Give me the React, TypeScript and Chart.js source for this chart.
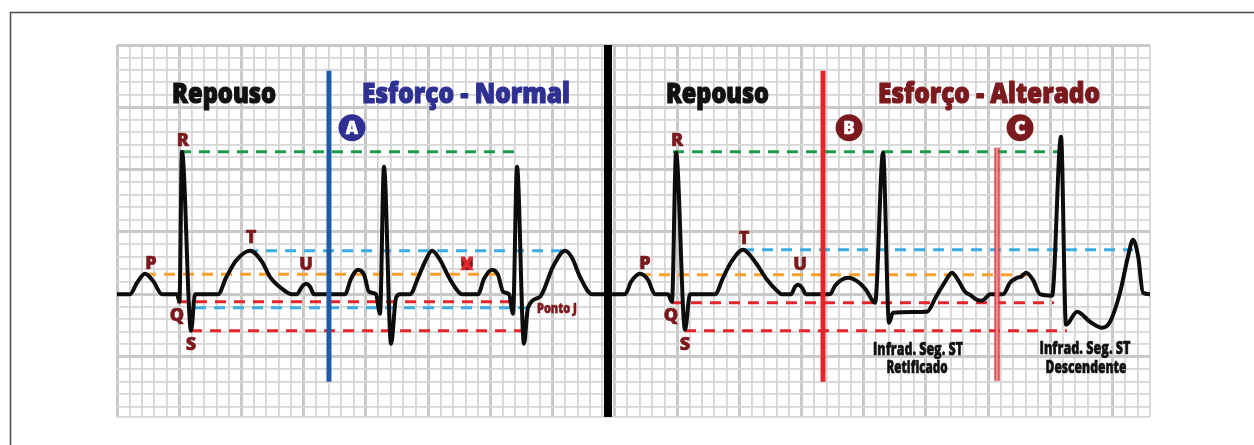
import React, { useEffect, useRef } from "react";
import { Chart, registerables } from "chart.js";

Chart.register(...registerables);

// Units: one small ECG square on each axis; y = 0 is the isoelectric baseline.
const X_MIN = 0;
const X_MAX = 83;
const Y_MIN = -9.85;
const Y_MAX = 20;

// ECG trace (left: rest + normal exercise, right: rest + altered exercise)
const ecgX = [
  0, 1.04, 1.61, 2.25, 2.89, 3.62, 4.82, 5.02, 5.22, 5.95, 6.27, 8.12, 8.76, 9.56, 10.69, 11.65, 12.29, 13.26, 14.06,
  14.46, 14.86, 15.19, 15.51, 15.83, 18.32,
  18.8, 19.36, 19.85, 20.25, 20.81, 21.13, 21.45, 22.02, 22.42, 22.74, 23.54, 24.19, 24.75, 25.31, 25.95, 26.6, 27.24,
  27.72, 29.01,
  29.49, 30.13, 30.61, 31.02, 31.5, 31.82, 32.14, 32.7, 33.02, 33.99, 35.03, 36.0, 36.56, 37.2, 38.17, 39.21,
  39.77, 40.82, 41.3, 42.02, 42.67, 43.23, 44.27, 44.59, 44.92, 45.64, 46.04, 48.05, 48.69, 49.42, 50.3, 51.26, 52.23,
  53.03, 53.43, 54.16, 54.48, 54.72, 55.04, 55.36, 57.29,
  57.69, 58.74, 59.54, 60.18, 60.91, 61.55, 62.03, 62.35, 65.08, 65.81, 66.53, 67.09, 67.57, 68.14, 68.54, 69.1, 69.5,
  69.9, 70.15, 71.19,
  71.75, 72.32, 72.64, 73.04, 73.6, 74.16, 75.13, 75.85, 76.25, 77.14, 78.18, 79.15, 79.79, 80.59, 81.23, 81.64, 82.05,
  82.44, 83.0,
];
const ecgY = [
  0, 0, 0.92, 1.65, 1.08, 0, 0, -0.6, 11.44, -2.93, 0, 0, 1.32, 2.69, 3.49, 2.61, 1.4, 0.44, 0,
  0, 0.6, 0.84, 0.6, 0, 0,
  1.24, 1.97, 1.57, 0.2, 0, -1.57, 10.23, -3.97, -0.28, 0, 0, 1.32, 2.61, 3.49, 2.77, 1.48, 0.44,
  0, 0,
  1.24, 1.97, 1.57, 0.2, 0, -1.57, 10.23, -3.97, -1.08, -0.2, 2.21, 3.49, 2.93, 1.4, 0, 0,
  0, 0, 1.0, 1.65, 1.16, 0, 0, -0.6, 11.36, -2.85, 0, 0, 1.32, 2.69, 3.57, 2.61, 1.16,
  0.28, 0, 0, 0.6, 0.76, 0.52, 0, 0,
  0.68, 1.32, 1.0, 0.36, -0.68, 11.36, -2.29, -1.48, -1.4, -0.2, 1.0, 1.73, 1.16, 0.2, -0.05, -0.44, -0.52,
  -0.2, 0, 0,
  0.92, 1.32, 1.4, 1.73, 1.16, 0, -0.12, 12.64, -2.45, -1.4, -2.21, -2.69, -2.21, 0.12, 3.01, 4.37, 3.01,
  0.12, 0,
];

// Dashed reference levels
const levelKinds = ["R", "T", "P", "Q", "J", "S"];
const leftLevelY = [11.44, 3.5, 1.6, -0.6, -1.08, -2.93];
const leftLevelStart = [5.06, 10.45, 2.25, 4.82, 6.27, 5.95];
const leftLevelEnd = [32.54, 36.4, 30.53, 31.82, 33.02, 33.02];
const rightLevelKinds = ["R", "T", "P", "Q", "S"];
const rightLevelY = [11.44, 3.57, 1.57, -0.68, -2.93];
const rightLevelStart = [44.67, 50.3, 42.02, 44.59, 45.64];
const rightLevelEnd = [75.61, 81.64, 73.12, 75.29, 76.33];

// Vertical markers A, B, C
const markerLabels = ["A", "B", "C"];
const markerX = [17.03, 56.73, 70.71];
const markerTop = [17.94, 17.94, 11.76];
const markerBottom = [-7.02, -7.02, -6.94];
const badgeX = [18.88, 58.82, 72.56];
const badgeY = [13.36, 13.36, 13.36];

// Panel divider
const dividerX = 39.45;

// Titles
const titleText = ["Repouso", "Esforço - Normal", "Repouso", "Esforço - Alterado"];
const titleX = [8.6, 28.04, 48.25, 70.07];
const titleY = [15.37, 15.37, 15.37, 15.37];

// Wave labels
const waveText = ["R", "P", "Q", "S", "T", "U", "R", "P", "Q", "S", "T", "U"];
const waveX = [5.3, 2.73, 4.82, 5.95, 10.77, 15.19, 45.0, 42.42, 44.51, 45.64, 50.38, 54.88];
const waveY = [11.92, 2.05, -2.13, -4.45, 4.13, 1.97, 11.92, 2.05, -2.13, -4.45, 4.05, 1.97];

// Notes
const noteText = ["Ponto J", "Infrad. Seg. ST", "Retificado", "Infrad. Seg. ST", "Descendente"];
const noteX = [35.35, 64.36, 64.28, 77.78, 77.86];
const noteY = [-1.48, -4.86, -6.3, -4.78, -6.3];

// Styles
const MAROON = "#7b1a1e";
const NAVY = "#2e3192";
const levelColor: Record<string, string> = {
  R: "#1f9a4a",
  T: "#3badE3",
  P: "#f5a12b",
  Q: "#e4262c",
  J: "#3badE3",
  S: "#e4262c",
};
const titleColor = ["#111111", NAVY, "#111111", MAROON];
const titleWidth = [104, 208, 103, 222];
const noteColor = [MAROON, "#111111", "#111111", "#111111", "#111111"];
const noteWidth = [40, 90, 61, 91, 81];
const noteSize = [14, 17, 17, 17, 17];
const badgeColor = [NAVY, MAROON, MAROON];

const FONT = '"Open Sans", "DejaVu Sans", sans-serif';

function fitText(
  ctx: CanvasRenderingContext2D,
  text: string,
  px: number,
  py: number,
  size: number,
  width: number | null,
  color: string,
  stroke: number
) {
  ctx.save();
  ctx.font = `800 ${size}px ${FONT}`;
  const w = ctx.measureText(text).width;
  ctx.translate(px, py);
  if (width && w > 0) ctx.scale(width / w, 1);
  ctx.fillStyle = color;
  ctx.strokeStyle = color;
  ctx.lineJoin = "round";
  ctx.textAlign = "center";
  ctx.textBaseline = "alphabetic";
  ctx.fillText(text, 0, 0);
  if (stroke > 0) {
    ctx.lineWidth = stroke;
    ctx.strokeText(text, 0, 0);
  }
  ctx.restore();
}

const overlayPlugin = {
  id: "ecgOverlay",
  beforeDraw(chart: any) {
    const ctx = chart.ctx as CanvasRenderingContext2D;
    ctx.save();
    ctx.strokeStyle = "#4d4d4d";
    ctx.lineWidth = 1.5;
    ctx.beginPath();
    ctx.moveTo(10.5, chart.height);
    ctx.lineTo(10.5, 12.5);
    ctx.lineTo(chart.width, 12.5);
    ctx.stroke();
    ctx.restore();
  },
  afterDatasetsDraw(chart: any) {
    const ctx = chart.ctx as CanvasRenderingContext2D;
    const xs = chart.scales.x;
    const ys = chart.scales.y;
    titleText.forEach((t, i) => {
      fitText(ctx, t, xs.getPixelForValue(titleX[i]), ys.getPixelForValue(titleY[i]), 28, titleWidth[i], titleColor[i], 1.2);
    });
    waveText.forEach((t, i) => {
      fitText(ctx, t, xs.getPixelForValue(waveX[i]), ys.getPixelForValue(waveY[i]), 18, null, MAROON, 0.6);
    });
    // crossed-out U label on the normal exercise tracing
    const ux = xs.getPixelForValue(28.12);
    const uy = ys.getPixelForValue(1.97);
    fitText(ctx, "U", ux, uy, 18, null, MAROON, 0.6);
    fitText(ctx, "X", ux, uy, 18, null, "#e4262c", 0.4);
    noteText.forEach((t, i) => {
      fitText(ctx, t, xs.getPixelForValue(noteX[i]), ys.getPixelForValue(noteY[i]), noteSize[i], noteWidth[i], noteColor[i], 0.6);
    });
    markerLabels.forEach((t, i) => {
      fitText(ctx, t, xs.getPixelForValue(badgeX[i]), ys.getPixelForValue(badgeY[i]) + 6, 17, null, "#ffffff", 0.5);
    });
  },
};

export default function App() {
  const canvasRef = useRef<HTMLCanvasElement | null>(null);

  useEffect(() => {
    if (!canvasRef.current) return;

    const dashed: any[] = [];
    levelKinds.forEach((k, i) => {
      dashed.push({
        type: "line",
        data: [
          { x: leftLevelStart[i], y: leftLevelY[i] },
          { x: leftLevelEnd[i], y: leftLevelY[i] },
        ],
        borderColor: levelColor[k],
        borderWidth: 3,
        borderDash: [11, 8],
        pointRadius: 0,
        order: 5,
      });
    });
    rightLevelKinds.forEach((k, i) => {
      dashed.push({
        type: "line",
        data: [
          { x: rightLevelStart[i], y: rightLevelY[i] },
          { x: rightLevelEnd[i], y: rightLevelY[i] },
        ],
        borderColor: levelColor[k],
        borderWidth: 3,
        borderDash: [11, 8],
        pointRadius: 0,
        order: 5,
      });
    });

    const markers: any[] = [];
    markerLabels.forEach((m, i) => {
      const pts = [
        { x: markerX[i], y: markerBottom[i] },
        { x: markerX[i], y: markerTop[i] },
      ];
      if (m === "C") {
        markers.push({
          type: "line",
          data: pts,
          borderColor: "rgba(205,45,50,0.85)",
          borderWidth: 5.5,
          pointRadius: 0,
          order: 3,
        });
        markers.push({
          type: "line",
          data: pts,
          borderColor: "rgba(238,140,140,0.95)",
          borderWidth: 2.5,
          pointRadius: 0,
          order: 2,
        });
      } else {
        markers.push({
          type: "line",
          data: pts,
          borderColor: m === "A" ? "#1f5aa8" : "#e4262c",
          borderWidth: 5,
          pointRadius: 0,
          order: 2,
        });
      }
    });

    const chart = new Chart(canvasRef.current, {
      type: "line",
      data: {
        datasets: [
          {
            type: "line",
            data: [
              { x: dividerX, y: Y_MIN },
              { x: dividerX, y: Y_MAX },
            ],
            borderColor: "#000000",
            borderWidth: 8,
            pointRadius: 0,
            order: 0,
          },
          {
            type: "scatter",
            data: badgeX.map((x, i) => ({ x, y: badgeY[i] })),
            pointRadius: 13.5,
            pointHoverRadius: 13.5,
            pointBackgroundColor: badgeColor,
            pointBorderWidth: 0,
            backgroundColor: badgeColor,
            borderWidth: 0,
            order: 1,
          },
          ...markers,
          {
            type: "line",
            data: ecgX.map((x, i) => ({ x, y: ecgY[i] })),
            borderColor: "#0d0d0d",
            borderWidth: 4,
            pointRadius: 0,
            cubicInterpolationMode: "monotone",
            borderJoinStyle: "round",
            borderCapStyle: "round",
            order: 4,
          },
          ...dashed,
        ] as any,
      },
      options: {
        responsive: false,
        animation: false,
        devicePixelRatio: 1,
        events: [],
        layout: { padding: { left: 117, right: 104, top: 45, bottom: 28 } },
        plugins: { legend: { display: false }, tooltip: { enabled: false } },
        scales: {
          x: {
            type: "linear",
            min: X_MIN,
            max: X_MAX,
            ticks: { display: false },
            border: { display: false },
            afterBuildTicks: (s: any) => {
              const t = [];
              for (let v = X_MIN; v <= X_MAX; v++) t.push({ value: v });
              s.ticks = t;
            },
            grid: {
              drawTicks: false,
              color: (c: any) => (c.tick && c.tick.value % 5 === 0 ? "#c9c9c9" : "#d6d6d6"),
              lineWidth: (c: any) => (c.tick && c.tick.value % 5 === 0 ? 3 : 1.8),
            },
          },
          y: {
            type: "linear",
            min: Y_MIN,
            max: Y_MAX,
            ticks: { display: false },
            border: { display: false },
            afterBuildTicks: (s: any) => {
              const t = [{ value: Y_MIN }];
              for (let v = -9; v <= Y_MAX; v++) t.push({ value: v });
              s.ticks = t;
            },
            grid: {
              drawTicks: false,
              color: (c: any) => (c.tick && c.tick.value % 5 === 0 ? "#c9c9c9" : "#d6d6d6"),
              lineWidth: (c: any) => (c.tick && c.tick.value % 5 === 0 ? 3 : 1.8),
            },
          },
        },
      } as any,
      plugins: [overlayPlugin],
    });

    return () => chart.destroy();
  }, []);

  return (
    <div style={{ position: "absolute", left: 0, top: 0, width: 1254, height: 445, background: "#ffffff" }}>
      <canvas ref={canvasRef} width={1254} height={445} style={{ display: "block" }} />
    </div>
  );
}
